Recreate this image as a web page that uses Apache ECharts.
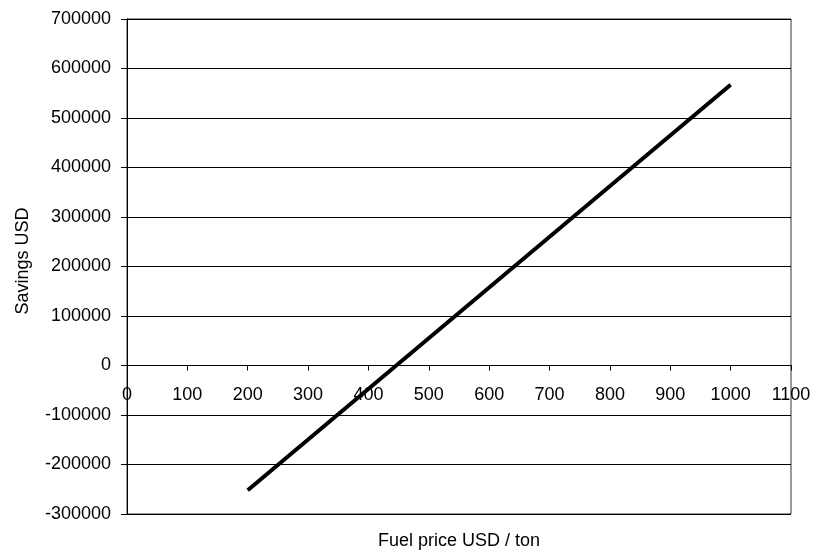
<!DOCTYPE html>
<html>
<head>
<meta charset="utf-8">
<script src="https://cdn.jsdelivr.net/npm/echarts@6/dist/echarts.min.js"></script>
<style>
  html, body { margin: 0; padding: 0; background: #fff; }
  #chart { width: 814px; height: 558px; }
</style>
</head>
<body>
<div id="chart"></div>
<script>
// fuel price (USD / ton) vs savings (USD)
const fuelPrice = [200, 1000];
const savings = [-252000, 567000];

const xAxisName = "Fuel price USD / ton";
const yAxisName = "Savings USD";

const yMin = -300000;
const yMax = 700000;

const chart = echarts.init(document.getElementById("chart"));
const font = "'Liberation Sans', Arial, sans-serif";

// grid size, used to move the x axis up to the zero line
const gridTop = 19;
const gridBottom = 44;
const gridHeight = 558 - gridTop - gridBottom;
const zeroOffset = -gridHeight * (0 - yMin) / (yMax - yMin);

chart.setOption({
  animation: false,
  grid: {
    left: 127,
    top: gridTop,
    right: 23,
    bottom: gridBottom,
    show: true,
    borderColor: "#333",
    borderWidth: 1,
  },
  xAxis: {
    type: "value",
    min: 0,
    max: 1100,
    interval: 100,
    offset: zeroOffset,
    axisLine: { onZero: false, lineStyle: { color: "#000", width: 1 } },
    axisTick: { show: true, length: 5, lineStyle: { color: "#000" } },
    axisLabel: {
      color: "#000",
      fontFamily: font,
      fontSize: 18,
      margin: 21,
      showMinLabel: true,
      showMaxLabel: true,
      hideOverlap: false,
      formatter: (v) => String(v),
    },
    splitLine: { show: false },
  },
  yAxis: {
    type: "value",
    min: yMin,
    max: yMax,
    interval: 100000,
    axisLine: { show: true, onZero: false, lineStyle: { color: "#000", width: 1 } },
    axisTick: { show: true, length: 6, lineStyle: { color: "#000" } },
    axisLabel: {
      color: "#000",
      fontFamily: font,
      fontSize: 18,
      margin: 16,
      formatter: (v) => String(v),
    },
    splitLine: { show: true, lineStyle: { color: "#000", width: 1 } },
  },
  graphic: [
    {
      type: "text",
      x: 459,
      y: 541,
      style: {
        text: xAxisName,
        fill: "#000",
        font: "18px " + font,
        textAlign: "center",
        textVerticalAlign: "middle",
      },
    },
    {
      type: "text",
      x: 23,
      y: 261,
      rotation: Math.PI / 2,
      style: {
        text: yAxisName,
        fill: "#000",
        font: "18px " + font,
        textAlign: "center",
        textVerticalAlign: "middle",
      },
    },
  ],
  series: [
    {
      type: "line",
      data: fuelPrice.map((x, i) => [x, savings[i]]),
      showSymbol: false,
      lineStyle: { color: "#000", width: 4 },
    },
  ],
});
</script>
</body>
</html>
